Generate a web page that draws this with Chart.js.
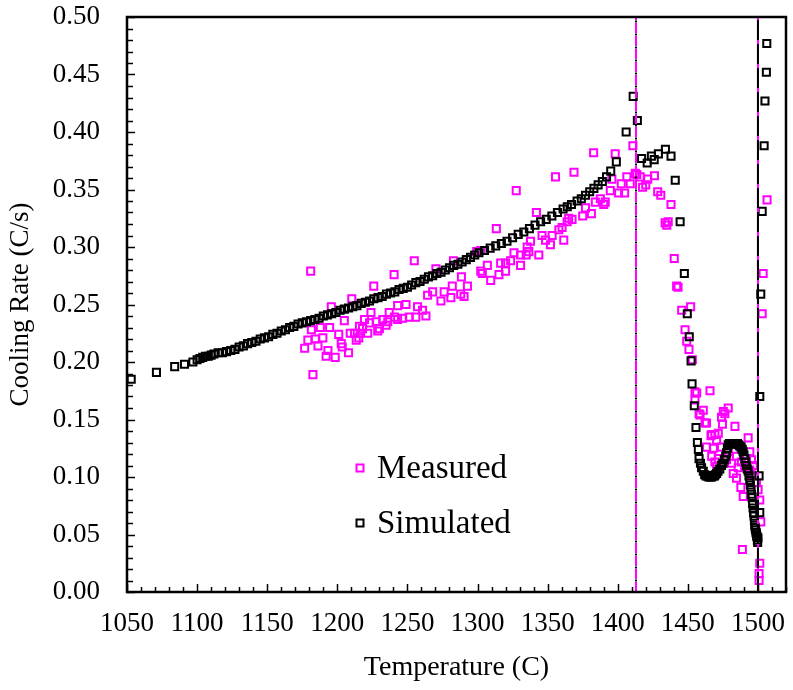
<!DOCTYPE html>
<html>
<head>
<meta charset="utf-8">
<script src="https://cdn.jsdelivr.net/npm/chart.js@4.4.0/dist/chart.umd.min.js"></script>
<style>
  body { margin: 0; background: #fff; }
  #box { width: 793px; height: 690px; }
</style>
</head>
<body>
<div id="box"><canvas id="chartz"></canvas></div>
<script>
'use strict'

// tick labels
const xTicks = [1050, 1100, 1150, 1200, 1250, 1300, 1350, 1400, 1450, 1500];
const yTicks = [0, 0.05, 0.10, 0.15, 0.20, 0.25, 0.30, 0.35, 0.40, 0.45, 0.50];

// vertical marker lines (temperature)
const markLines = [1413, 1500];

// measured cooling rate
const measT = [1181, 1182.6, 1176.7, 1179, 1181.5, 1184.3, 1186.2, 1187.9, 1189.7, 1192,
  1193.3, 1194.5, 1195.7, 1198.5, 1201, 1202.8, 1203.5, 1205, 1208, 1209.2,
  1210.3, 1212.3, 1213.5, 1215.3, 1215.8, 1216.3, 1218, 1219.4, 1221.7, 1223,
  1224, 1226, 1227.7, 1228.8, 1230, 1232.4, 1234.8, 1236, 1237, 1240.5,
  1240.7, 1243, 1243, 1246.6, 1249, 1251.3, 1254.9, 1256, 1257.2, 1260.8,
  1263.2, 1264.4, 1268, 1270.3, 1273.9, 1276.2, 1281, 1282, 1282.8, 1288,
  1288.5, 1290.4, 1292.8, 1299.4, 1302.3, 1302.3, 1303.4, 1307, 1309.4, 1313.4,
  1315.3, 1316.5, 1320, 1320, 1323.6, 1326, 1327.6, 1330.7, 1330.7, 1334.7,
  1335.4, 1336.6, 1337.8, 1342, 1343.7, 1346, 1348.5, 1352, 1353.2, 1355.6,
  1358, 1360.3, 1361.5, 1363.9, 1365, 1367.4, 1368.8, 1375, 1377, 1381.2,
  1382.8, 1384, 1387.6, 1390, 1391.1, 1394.7, 1395.8, 1398.2, 1400.6, 1402.5,
  1404.9, 1406.5, 1408.9, 1410.8, 1412.5, 1413.6, 1416, 1417.7, 1420, 1421.4,
  1426.2, 1428.5, 1430.7, 1433.8, 1435, 1436, 1438, 1440.3, 1442, 1443,
  1445.6, 1448, 1449.2, 1450.8, 1452, 1453.2, 1455.1, 1455.1, 1456.3, 1458,
  1458.7, 1461, 1462.2, 1463.3, 1463.4, 1465.8, 1466.5, 1467, 1467, 1468.2,
  1469.3, 1469.3, 1470.5, 1470.5, 1471.7, 1471.7, 1474, 1474, 1474, 1474.7,
  1475.3, 1476.4, 1477.6, 1478.8, 1478.8, 1481.2, 1482.4, 1483.6, 1484.7, 1484.7,
  1485.9, 1487.8, 1488.2, 1488.9, 1489.5, 1490.6, 1491.8, 1493, 1494.2, 1494.2,
  1495.4, 1495.4, 1496.6, 1498.9, 1500.1, 1501.3, 1502, 1501.3, 1500.8, 1500.8,
  1503, 1503.7, 1506.5];
const measRate = [0.279, 0.189, 0.212, 0.219, 0.228, 0.220, 0.214, 0.230, 0.221, 0.205,
  0.210, 0.230, 0.248, 0.204, 0.224, 0.216, 0.213, 0.236, 0.208, 0.225,
  0.255, 0.225, 0.219, 0.221, 0.231, 0.225, 0.229, 0.237, 0.225, 0.234,
  0.243, 0.266, 0.235, 0.227, 0.229, 0.237, 0.232, 0.235, 0.243, 0.276,
  0.239, 0.249, 0.237, 0.238, 0.250, 0.239, 0.288, 0.239, 0.248, 0.245,
  0.240, 0.258, 0.261, 0.281, 0.253, 0.261, 0.256, 0.266, 0.288, 0.259,
  0.274, 0.257, 0.266, 0.296, 0.297, 0.279, 0.277, 0.284, 0.271, 0.316,
  0.276, 0.286, 0.286, 0.279, 0.288, 0.295, 0.349, 0.293, 0.284, 0.293,
  0.300, 0.296, 0.305, 0.330, 0.293, 0.310, 0.306, 0.302, 0.310, 0.361,
  0.315, 0.317, 0.306, 0.322, 0.325, 0.324, 0.365, 0.327, 0.334, 0.329,
  0.382, 0.339, 0.342, 0.337, 0.339, 0.349, 0.359, 0.381, 0.347, 0.355,
  0.347, 0.361, 0.355, 0.388, 0.364, 0.363, 0.361, 0.352, 0.354, 0.359,
  0.362, 0.348, 0.345, 0.321, 0.319, 0.322, 0.337, 0.290, 0.266, 0.265,
  0.245, 0.228, 0.218, 0.211, 0.248, 0.202, 0.174, 0.167, 0.173, 0.155,
  0.154, 0.158, 0.147, 0.147, 0.126, 0.175, 0.136, 0.118, 0.137, 0.125,
  0.137, 0.113, 0.109, 0.132, 0.138, 0.116, 0.152, 0.110, 0.126, 0.146,
  0.157, 0.155, 0.115, 0.160, 0.122, 0.112, 0.103, 0.144, 0.118, 0.099,
  0.108, 0.091, 0.113, 0.037, 0.083, 0.109, 0.116, 0.134, 0.122, 0.106,
  0.115, 0.102, 0.110, 0.095, 0.089, 0.080, 0.061, 0.025, 0.016, 0.010,
  0.242, 0.277, 0.341];

// simulated cooling rate
const simT = [1053, 1071, 1084, 1091, 1097, 1100, 1102, 1104, 1106, 1108,
  1110, 1112, 1115, 1118, 1121, 1124, 1127, 1130, 1133, 1136,
  1139, 1142, 1145, 1148, 1151, 1154, 1157, 1160, 1163, 1166,
  1169, 1172, 1175, 1178, 1181, 1184, 1187, 1190, 1193, 1196,
  1199, 1202, 1205, 1208, 1211, 1214, 1217, 1220, 1223, 1226,
  1229, 1232, 1235, 1238, 1241, 1244, 1247, 1250, 1253, 1256,
  1259, 1262, 1265, 1268, 1271, 1274, 1277, 1280, 1283, 1286,
  1289, 1292, 1295, 1298, 1301, 1305, 1309, 1313, 1317, 1321,
  1325, 1329, 1333, 1337, 1341, 1345, 1349, 1353, 1357, 1361,
  1364, 1367, 1371, 1374, 1377, 1380, 1383, 1386, 1389, 1392,
  1395, 1399, 1406, 1411, 1414, 1417, 1421, 1424, 1426, 1429,
  1434, 1438, 1441, 1444.5, 1447.5, 1449.6, 1451, 1452.3, 1453, 1454.6,
  1455.8, 1456.8, 1457.5, 1458, 1459, 1459.8, 1461, 1462, 1463, 1464,
  1465, 1466, 1467, 1468, 1469, 1469.5, 1470.5, 1471.5, 1472.8, 1474,
  1475, 1476, 1477, 1477.6, 1478.2, 1478.8, 1479.6, 1480.5, 1481.4, 1482.3,
  1483.2, 1484, 1484.7, 1485.4, 1486.2, 1487, 1488, 1488.8, 1489.4, 1490,
  1490.6, 1491.2, 1491.8, 1492.4, 1493, 1493.6, 1494.2, 1494.6, 1495, 1495.4,
  1495.8, 1496.2, 1496.5, 1496.9, 1497.2, 1497.5, 1497.7, 1498, 1498.3, 1498.6,
  1498.9, 1499.1, 1499.3, 1499.6, 1499.8, 1500, 1500.8, 1501.3, 1501.3, 1502,
  1503, 1504.4, 1505, 1506, 1506.3];
const simRate = [0.185, 0.191, 0.196, 0.198, 0.200, 0.202, 0.203, 0.204, 0.205, 0.205,
  0.206, 0.207, 0.208, 0.208, 0.209, 0.210, 0.211, 0.213, 0.214, 0.216,
  0.217, 0.218, 0.220, 0.221, 0.222, 0.224, 0.225, 0.227, 0.228, 0.230,
  0.231, 0.233, 0.234, 0.235, 0.236, 0.237, 0.238, 0.240, 0.241, 0.242,
  0.243, 0.245, 0.246, 0.247, 0.248, 0.249, 0.251, 0.252, 0.253, 0.255,
  0.256, 0.257, 0.259, 0.260, 0.261, 0.263, 0.264, 0.265, 0.267, 0.269,
  0.270, 0.272, 0.274, 0.275, 0.277, 0.278, 0.280, 0.282, 0.284, 0.285,
  0.287, 0.289, 0.291, 0.293, 0.295, 0.297, 0.299, 0.301, 0.303, 0.305,
  0.308, 0.311, 0.313, 0.316, 0.319, 0.322, 0.324, 0.327, 0.330, 0.333,
  0.335, 0.337, 0.340, 0.342, 0.345, 0.348, 0.351, 0.354, 0.357, 0.361,
  0.366, 0.374, 0.400, 0.431, 0.410, 0.377, 0.373, 0.379, 0.376, 0.381,
  0.385, 0.379, 0.358, 0.322, 0.277, 0.242, 0.222, 0.201, 0.181, 0.162,
  0.143, 0.130, 0.124, 0.116, 0.112, 0.108, 0.105, 0.102, 0.101, 0.101,
  0.100, 0.100, 0.100, 0.101, 0.101, 0.102, 0.103, 0.105, 0.107, 0.110,
  0.112, 0.115, 0.118, 0.121, 0.125, 0.128, 0.129, 0.129, 0.129, 0.129,
  0.129, 0.129, 0.129, 0.129, 0.128, 0.127, 0.126, 0.124, 0.122, 0.119,
  0.116, 0.113, 0.110, 0.107, 0.105, 0.101, 0.097, 0.093, 0.089, 0.085,
  0.082, 0.077, 0.073, 0.069, 0.066, 0.062, 0.058, 0.056, 0.054, 0.052,
  0.051, 0.049, 0.048, 0.045, 0.043, 0.047, 0.101, 0.069, 0.170, 0.259,
  0.331, 0.388, 0.427, 0.452, 0.477];

const measured = measT.map((t, i) => ({x: t, y: measRate[i]}));
const simulated = simT.map((t, i) => ({x: t, y: simRate[i]}));

const magenta = '#ff00ff';
const serif = "'Liberation Serif', 'Times New Roman', serif";

function vLine(t, color, dash, order) {
  return {
    type: 'line',
    data: [{x: t, y: 0}, {x: t, y: 0.5}],
    borderColor: color,
    borderWidth: 2,
    borderDash: dash,
    pointRadius: 0,
    fill: false,
    order: order
  };
}

// frame, inward ticks and the legend
const frameTicks = {
  id: 'frameTicks',
  afterDraw(chart) {
    const {ctx, chartArea: a, scales: {x, y}} = chart;
    ctx.save();
    ctx.strokeStyle = '#000';
    ctx.lineWidth = 1.5;
    for (let t = 1050; t <= 1520; t += 10) {
      const px = Math.round(x.getPixelForValue(t)) + 0.5;
      const len = t % 50 === 0 ? 8 : 5;
      ctx.beginPath();
      ctx.moveTo(px, a.bottom);
      ctx.lineTo(px, a.bottom - len);
      ctx.stroke();
    }
    for (let k = 0; k <= 50; k++) {
      const py = Math.round(y.getPixelForValue(k / 100)) + 0.5;
      const len = k % 5 === 0 ? 8 : 6;
      ctx.beginPath();
      ctx.moveTo(a.left, py);
      ctx.lineTo(a.left + len, py);
      ctx.stroke();
    }
    ctx.lineWidth = 2.5;
    ctx.strokeRect(a.left, a.top, a.right - a.left, a.bottom - a.top);

    // legend
    const items = [['Measured', magenta, 468], ['Simulated', '#000', 523]];
    ctx.font = '33px ' + serif;
    ctx.textBaseline = 'middle';
    ctx.fillStyle = '#000';
    for (const [label, col, py] of items) {
      ctx.strokeStyle = col;
      ctx.lineWidth = 2;
      ctx.strokeRect(356.5, py - 3.5, 7, 7);
      ctx.fillText(label, 377, py + 1);
    }
    ctx.restore();
  }
};

const data = {
  datasets: [
    vLine(markLines[0], magenta, [10, 3], 0.5),
    vLine(markLines[0], '#000', [0, 10.5, 2, 0.5], 0),
    vLine(markLines[1], magenta, [], 0.5),
    vLine(markLines[1], '#000', [20, 4], 0),
    {
      label: 'Simulated',
      data: simulated,
      borderColor: '#000',
      backgroundColor: 'rgba(0,0,0,0)',
      pointStyle: 'rect',
      pointRadius: 5,
      borderWidth: 2,
      order: 1
    },
    {
      label: 'Measured',
      data: measured,
      borderColor: magenta,
      backgroundColor: 'rgba(0,0,0,0)',
      pointStyle: 'rect',
      pointRadius: 5,
      borderWidth: 2,
      order: 2
    }
  ]
};

const config = {
  type: 'scatter',
  data: data,
  options: {
    responsive: true,
    maintainAspectRatio: false,
    animation: false,
    layout: {padding: {top: 17, right: 3, left: 0, bottom: 0}},
    plugins: {legend: {display: false}, tooltip: {enabled: false}},
    scales: {
      x: {
        type: 'linear',
        min: 1050,
        max: 1520,
        afterFit: s => { s.height = 98; s.paddingLeft = 0; s.paddingRight = 0; },
        afterBuildTicks: s => { s.ticks = xTicks.map(v => ({value: v})); },
        grid: {display: false, drawTicks: false},
        border: {display: false},
        ticks: {color: '#000', font: {family: serif, size: 27}, padding: 16, maxRotation: 0,
          callback: v => String(v)},
        title: {display: true, text: 'Temperature (C)', color: '#000',
          font: {family: serif, size: 28}, padding: {top: 0, bottom: 6}}
      },
      y: {
        min: 0,
        max: 0.5,
        afterFit: s => { s.width = 127; s.paddingTop = 0; s.paddingBottom = 0; },
        afterBuildTicks: s => { s.ticks = yTicks.map(v => ({value: v})); },
        grid: {display: false, drawTicks: false},
        border: {display: false},
        ticks: {color: '#000', font: {family: serif, size: 27}, padding: 27,
          callback: v => v.toFixed(2)},
        title: {display: true, text: 'Cooling Rate (C/s)', color: '#000',
          font: {family: serif, size: 27}, padding: {top: 5, bottom: 0}}
      }
    }
  },
  plugins: [frameTicks]
};

new Chart(document.getElementById('chartz'), config);
</script>
</body>
</html>
